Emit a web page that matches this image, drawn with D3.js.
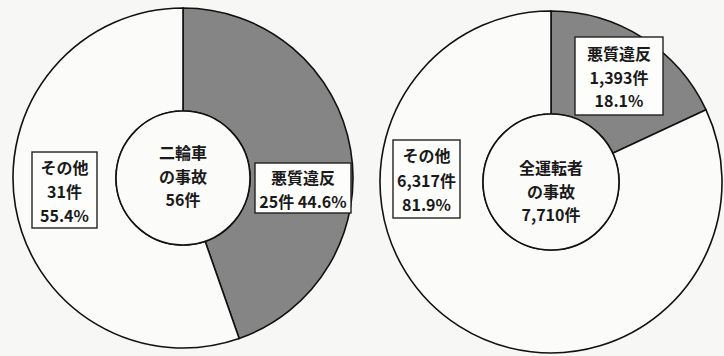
<!DOCTYPE html>
<html>
<head>
<meta charset="utf-8">
<script src="https://d3js.org/d3.v7.min.js"></script>
<style>
html, body { margin: 0; padding: 0; background: #f7f7f5; }
svg { display: block; }
text {
  font-family: "Noto Sans CJK JP", "Noto Sans", sans-serif;
  font-weight: bold;
  font-size: 16px;
  fill: #1a1a1a;
}
</style>
</head>
<body>
<script>
// データ
var charts = ["二輪車", "全運転者"];
var categories = ["悪質違反", "その他"];
var violation = [25, 1393];
var other = [31, 6317];

var width = 724, height = 356;

// 配置(中心・半径・ラベル枠)
var layout = [
  { cx: 183, cy: 178, R: 170, r: 67, centerY: -26, step: 23.5,
    boxes: [
      { x: 72, y: -15, w: 96, h: 50, top: -1, step: 23.5, oneLine: true },
      { x: -151, y: -26, w: 65, h: 76, top: -11, step: 24 }
    ] },
  { cx: 551, cy: 182, R: 171, r: 68, centerY: -15, step: 23.5,
    boxes: [
      { x: 24, y: -145, w: 88, h: 78, top: -129, step: 23.5 },
      { x: -158, y: -42, w: 67, h: 78, top: -27, step: 24.5 }
    ] }
];

var fmt = d3.format(",");
var pct = d3.format(".1f");

var svg = d3.select("body").append("svg")
  .attr("width", width)
  .attr("height", height);

var pie = d3.pie().sort(null).value(function(d) { return d; });

// 複数行テキスト(tspanで1つのtextにまとめる)
function multiline(g, x, y, step, lines) {
  var t = g.append("text")
    .attr("x", x)
    .attr("y", y)
    .attr("text-anchor", "middle")
    .attr("dominant-baseline", "central");
  lines.forEach(function(s, k) {
    t.append("tspan")
      .attr("x", x)
      .attr("y", y + k * step)
      .text(s);
  });
}

charts.forEach(function(name, i) {
  var L = layout[i];
  var values = [violation[i], other[i]];
  var total = d3.sum(values);
  var arc = d3.arc().innerRadius(L.r).outerRadius(L.R);

  var g = svg.append("g")
    .attr("transform", "translate(" + L.cx + "," + L.cy + ")");

  g.selectAll("path")
    .data(pie(values))
    .enter().append("path")
    .attr("d", arc)
    .attr("fill", function(d, j) { return j === 0 ? "#858585" : "#fbfbf9"; })
    .attr("stroke", "#111")
    .attr("stroke-width", 1.6);

  // 中央の円
  g.append("circle")
    .attr("r", L.r)
    .attr("fill", "#fbfbf9")
    .attr("stroke", "#111")
    .attr("stroke-width", 1.6);

  multiline(g, 0, L.centerY, L.step, [name, "の事故", fmt(total) + "件"]);

  // ラベル枠
  values.forEach(function(v, j) {
    var b = L.boxes[j];
    var lines;
    if (b.oneLine) {
      lines = [categories[j], fmt(v) + "件 " + pct(v / total * 100) + "%"];
    } else {
      lines = [categories[j], fmt(v) + "件", pct(v / total * 100) + "%"];
    }
    g.append("rect")
      .attr("x", b.x)
      .attr("y", b.y)
      .attr("width", b.w)
      .attr("height", b.h)
      .attr("fill", "#fdfdfc")
      .attr("stroke", "#222")
      .attr("stroke-width", 1.4);
    multiline(g, b.x + b.w / 2, b.top, b.step, lines);
  });
});
</script>
</body>
</html>
